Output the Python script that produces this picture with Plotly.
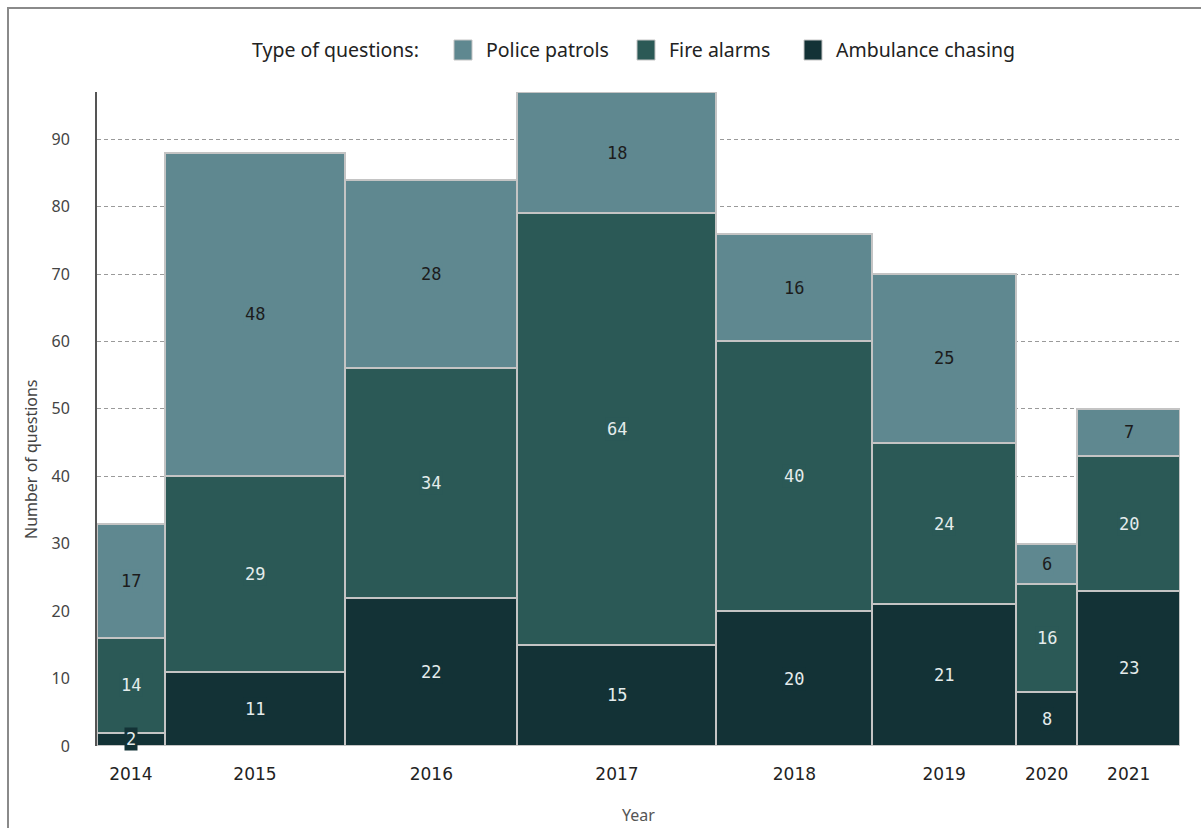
import numpy as np
import plotly.graph_objects as go

# Questions per year, split by type
years = ["2014", "2015", "2016", "2017", "2018", "2019", "2020", "2021"]
ambulance_chasing = [2, 11, 22, 15, 20, 21, 8, 23]
fire_alarms = [14, 29, 34, 64, 40, 24, 16, 20]
police_patrols = [17, 48, 28, 18, 16, 25, 6, 7]

# name, values, fill colour, label colour  (bottom to top)
series = [
    ("Ambulance chasing", ambulance_chasing, "#133236", "#e4ecec"),
    ("Fire alarms", fire_alarms, "#2b5956", "#e4ecec"),
    ("Police patrols", police_patrols, "#5f8890", "#1c1c1c"),
]

# Column widths are proportional to each year's total
totals = np.array(ambulance_chasing) + np.array(fire_alarms) + np.array(police_patrols)
left = np.concatenate([[0], np.cumsum(totals)[:-1]])
centers = left + totals / 2
x_max = float(totals.sum())
y_max = float(totals.max())

W, H = 1201, 828
ML, MR, MT, MB = 97, 21, 92, 82
PW, PH = W - ML - MR, H - MT - MB


def px_x(p):
    return (p - ML) / PW


def px_y(p):
    return (H - MB - p) / PH


fig = go.Figure()
annotations = []
base = np.zeros(len(years))
for name, vals, color, txtcolor in series:
    vals = np.array(vals)
    fig.add_trace(go.Bar(
        name=name,
        x=centers,
        y=vals,
        width=totals,
        marker=dict(color=color, line=dict(color="#c4c4c4", width=2)),
        hoverinfo="skip",
        showlegend=False,
    ))
    # value labels centred in each segment
    for xc, b, v in zip(centers, base, vals):
        annotations.append(dict(
            x=xc, y=b + v / 2, xref="x", yref="y",
            text=str(v), showarrow=False,
            font=dict(family="DejaVu Sans Mono, monospace", size=17, color=txtcolor),
            bgcolor=color, borderpad=1,
        ))
    base = base + vals

# legend row: title, then swatch + label per type (top to bottom order)
legend_y = px_y(50)
legend_font = dict(size=19.5, color="#222")
annotations.append(dict(
    x=px_x(250), y=legend_y, xref="paper", yref="paper", xanchor="left", yanchor="middle",
    text="Type of questions:", showarrow=False, font=legend_font,
))
shapes = []
legend_items = [
    (series[2], 454),
    (series[1], 637),
    (series[0], 804),
]
for (name, _, color, _), sx in legend_items:
    shapes.append(dict(
        type="rect", xref="paper", yref="paper",
        x0=px_x(sx), x1=px_x(sx + 18), y0=px_y(60), y1=px_y(40),
        fillcolor=color, line=dict(color="#c4c4c4", width=1),
    ))
    annotations.append(dict(
        x=px_x(sx + 30), y=legend_y, xref="paper", yref="paper", xanchor="left", yanchor="middle",
        text=name, showarrow=False, font=legend_font,
    ))

# y-axis title
annotations.append(dict(
    x=px_x(31), y=px_y(459), xref="paper", yref="paper", xanchor="center", yanchor="middle",
    text="Number of questions", textangle=-90, showarrow=False,
    font=dict(size=16, color="#444"),
))

# outer frame
shapes.append(dict(
    type="rect", xref="paper", yref="paper",
    x0=px_x(8), x1=1.2, y0=-0.3, y1=px_y(8),
    line=dict(color="#8a8a8a", width=2), fillcolor="rgba(0,0,0,0)", layer="below",
))

fig.update_layout(
    barmode="stack",
    bargap=0,
    width=W,
    height=H,
    margin=dict(l=ML, r=MR, t=MT, b=MB),
    paper_bgcolor="white",
    plot_bgcolor="white",
    font=dict(family="Noto Sans, sans-serif", color="#333"),
    showlegend=False,
    xaxis=dict(
        range=[0, x_max],
        tickvals=centers,
        ticktext=years,
        showgrid=False,
        zeroline=False,
        showline=False,
        ticks="",
        ticklabelstandoff=16,
        tickfont=dict(family="DejaVu Sans, sans-serif", size=17, color="#222"),
        title=dict(text="Year", font=dict(size=16, color="#555"), standoff=26),
        automargin=False,
        fixedrange=True,
    ),
    yaxis=dict(
        range=[0, y_max],
        tickvals=list(range(0, 100, 10)),
        showgrid=True,
        gridcolor="#9a9a9a",
        griddash="4px,3px",
        gridwidth=1,
        zeroline=False,
        showline=True,
        linecolor="#555",
        linewidth=2,
        ticks="",
        ticklabelstandoff=22,
        tickfont=dict(size=16, color="#444"),
        automargin=False,
        fixedrange=True,
    ),
    annotations=annotations,
    shapes=shapes,
)

fig.write_html("out.html")
